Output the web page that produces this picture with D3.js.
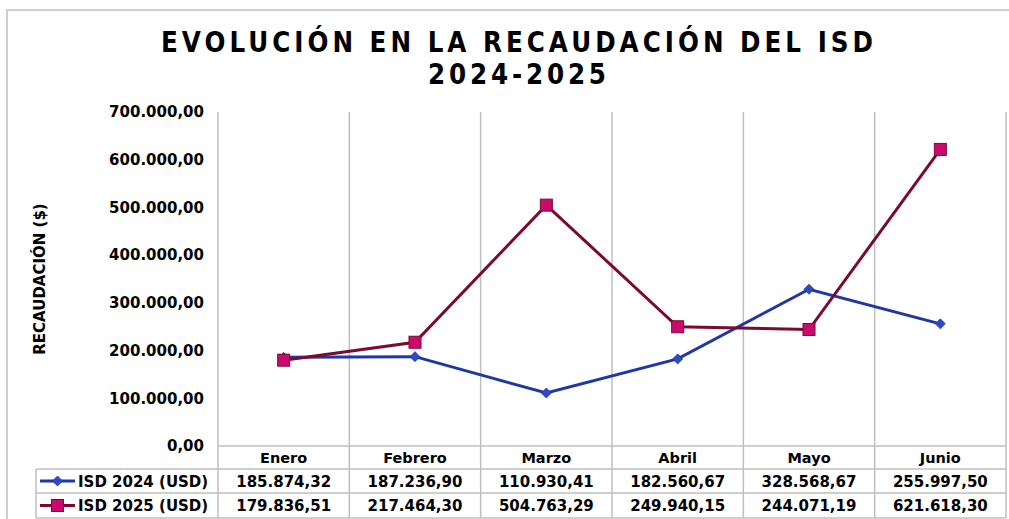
<!DOCTYPE html>
<html>
<head>
<meta charset="utf-8">
<script src="https://cdn.jsdelivr.net/npm/d3@7"></script>
<style>
  body { margin: 0; background: #fff; }
  text { font-family: Verdana, 'DejaVu Sans', sans-serif; font-weight: bold; fill: #000; }
</style>
</head>
<body>
<div id="chart"></div>
<script>
const months = ['Enero', 'Febrero', 'Marzo', 'Abril', 'Mayo', 'Junio']
const isd2024 = [185874.32, 187236.9, 110930.41, 182560.67, 328568.67, 255997.5]
const isd2025 = [179836.51, 217464.3, 504763.29, 249940.15, 244071.19, 621618.3]
const seriesNames = ['ISD 2024 (USD)', 'ISD 2025 (USD)']
const yTicks = [0, 100000, 200000, 300000, 400000, 500000, 600000, 700000]

const width = 1009
const height = 519
const plot = { left: 218, right: 1006, top: 112, bottom: 446 }
const rowH = [469, 493, 518]
const tableLeft = 36
const gridColor = '#bfbfbf'

const es = d3.formatLocale({ decimal: ',', thousands: '.', grouping: [3], currency: ['$', ''] })
const fmt = es.format(',.2f')

const svg = d3
  .select('#chart')
  .append('svg')
  .attr('width', width)
  .attr('height', height)

// outer frame
svg
  .append('rect')
  .attr('x', 7)
  .attr('y', 10)
  .attr('width', 1100)
  .attr('height', 600)
  .attr('fill', 'none')
  .attr('stroke', '#cfcfcf')
  .attr('stroke-width', 2)

const xScale = d3.scaleBand().domain(months).range([plot.left, plot.right])
const yScale = d3.scaleLinear().domain([0, 700000]).range([plot.bottom, plot.top])

// title: slightly narrow glyphs, spaced out
const squeeze = 0.88
function titleLine(txt, y, w) {
  svg
    .append('g')
    .attr('transform', 'translate(517,' + y + ') scale(' + squeeze + ',1)')
    .append('text')
    .text(txt)
    .attr('x', 0)
    .attr('y', 0)
    .attr('text-anchor', 'middle')
    .attr('font-size', 28)
    .attr('textLength', w / squeeze)
    .attr('lengthAdjust', 'spacing')
}
titleLine('EVOLUCIÓN EN LA RECAUDACIÓN DEL ISD', 52, 712)
titleLine('2024-2025', 84, 178)

// y axis title
svg
  .append('text')
  .text('RECAUDACIÓN ($)')
  .attr('transform', 'translate(45,279) rotate(-90)')
  .attr('text-anchor', 'middle')
  .attr('font-size', 15)

// vertical gridlines (plot + table)
const bounds = months.map(m => xScale(m)).concat([plot.right])
svg
  .selectAll('.vgrid')
  .data(bounds)
  .enter()
  .append('line')
  .attr('class', 'vgrid')
  .attr('x1', d => d)
  .attr('x2', d => d)
  .attr('y1', plot.top)
  .attr('y2', rowH[2])
  .attr('stroke', gridColor)
  .attr('stroke-width', 1.5)

// horizontal table lines
svg
  .append('line')
  .attr('x1', plot.left)
  .attr('x2', plot.right)
  .attr('y1', plot.bottom)
  .attr('y2', plot.bottom)
  .attr('stroke', gridColor)
  .attr('stroke-width', 1.5)
svg
  .selectAll('.hrow')
  .data(rowH)
  .enter()
  .append('line')
  .attr('class', 'hrow')
  .attr('x1', tableLeft)
  .attr('x2', plot.right)
  .attr('y1', d => d)
  .attr('y2', d => d)
  .attr('stroke', gridColor)
  .attr('stroke-width', 1.5)
svg
  .append('line')
  .attr('x1', tableLeft)
  .attr('x2', tableLeft)
  .attr('y1', rowH[0])
  .attr('y2', rowH[2])
  .attr('stroke', gridColor)
  .attr('stroke-width', 1.5)

// y axis
const yAxis = d3
  .axisLeft(yScale)
  .tickValues(yTicks)
  .tickSize(0)
  .tickPadding(14)
  .tickFormat(fmt)
svg
  .append('g')
  .attr('class', 'axis y-axis')
  .attr('transform', 'translate(' + plot.left + ',0)')
  .call(yAxis)
svg.selectAll('.y-axis path').remove()
svg
  .selectAll('.y-axis text')
  .attr('font-size', 15)
  .attr('font-family', "Verdana, 'DejaVu Sans', sans-serif")
  .attr('font-weight', 'bold')
  .attr('fill', '#000')

// category header row
svg
  .selectAll('.cat')
  .data(months)
  .enter()
  .append('text')
  .attr('class', 'cat')
  .text(d => d)
  .attr('x', d => xScale(d) + xScale.bandwidth() / 2)
  .attr('y', 463)
  .attr('text-anchor', 'middle')
  .attr('font-size', 14.5)

const cx = d => xScale(d) + xScale.bandwidth() / 2

const series = [
  { name: seriesNames[0], values: isd2024, line: '#1f36a3', marker: '#2d4cc0', shape: 'diamond' },
  { name: seriesNames[1], values: isd2025, line: '#7a0b2e', marker: '#cc0a6e', shape: 'square' }
]

const line = d3
  .line()
  .x((d, i) => cx(months[i]))
  .y(d => yScale(d))

function drawMarker(g, s, x, y) {
  if (s.shape === 'diamond') {
    g.append('path')
      .attr('d', `M${x},${y - 5}L${x + 5},${y}L${x},${y + 5}L${x - 5},${y}Z`)
      .attr('fill', s.marker)
      .attr('stroke', '#1f36a3')
      .attr('stroke-width', 0.8)
  } else {
    g.append('rect')
      .attr('x', x - 6)
      .attr('y', y - 6)
      .attr('width', 12)
      .attr('height', 12)
      .attr('fill', s.marker)
      .attr('stroke', '#7a0b2e')
      .attr('stroke-width', 1)
  }
}

series.forEach((s, k) => {
  svg
    .append('path')
    .datum(s.values)
    .attr('d', line)
    .attr('fill', 'none')
    .attr('stroke', s.line)
    .attr('stroke-width', 3)
  const g = svg.append('g')
  s.values.forEach((v, i) => drawMarker(g, s, cx(months[i]), yScale(v)))

  // table row
  const yMid = (rowH[k] + rowH[k + 1]) / 2
  svg
    .append('line')
    .attr('x1', 40)
    .attr('x2', 75)
    .attr('y1', yMid)
    .attr('y2', yMid)
    .attr('stroke', s.line)
    .attr('stroke-width', 3)
  drawMarker(svg.append('g'), s, 57.5, yMid)
  svg
    .append('text')
    .text(s.name)
    .attr('x', 78)
    .attr('y', yMid + 5.5)
    .attr('font-size', 15)
  svg
    .selectAll('.val' + k)
    .data(s.values)
    .enter()
    .append('text')
    .attr('class', 'val' + k)
    .text(d => fmt(d))
    .attr('x', (d, i) => cx(months[i]))
    .attr('y', yMid + 5.5)
    .attr('text-anchor', 'middle')
    .attr('font-size', 15)
})
</script>
</body>
</html>
